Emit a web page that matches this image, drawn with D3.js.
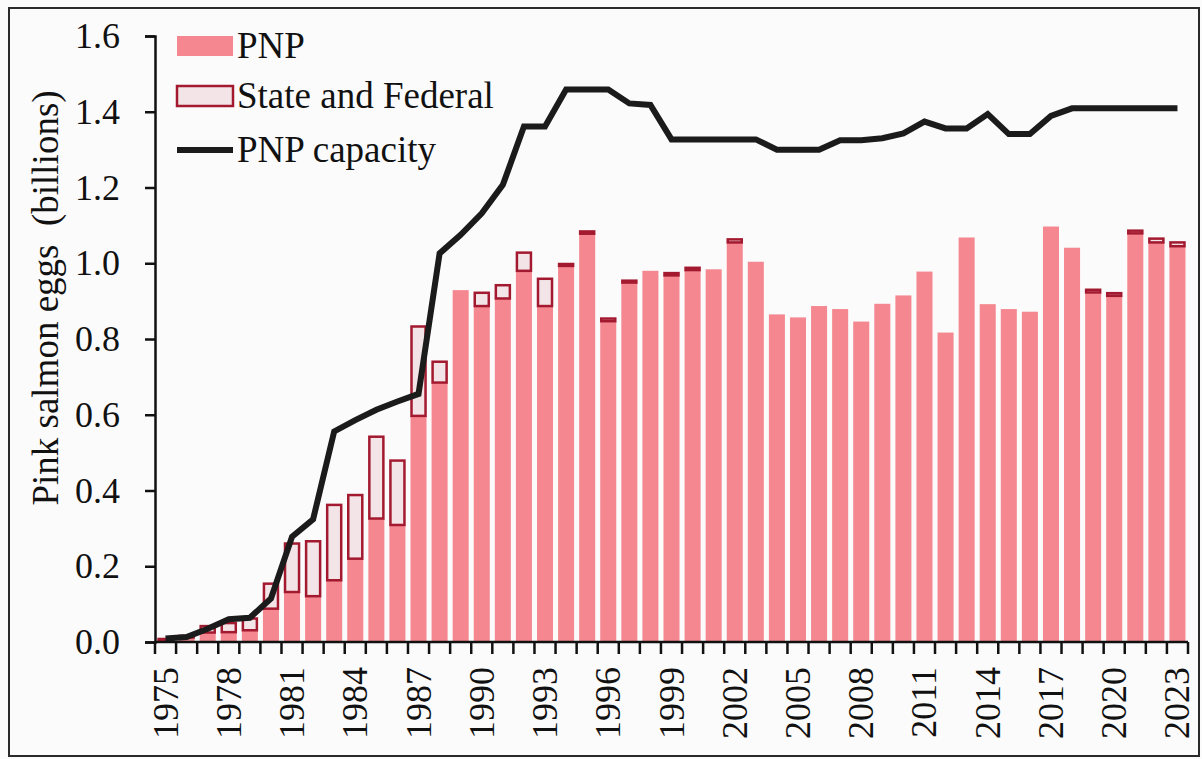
<!DOCTYPE html>
<html>
<head>
<meta charset="utf-8">
<script src="https://cdn.jsdelivr.net/npm/d3@7"></script>
<style>
  body { margin: 0; background: #fbfbfc; }
  svg { display: block; }
  text { font-family: "Liberation Serif", "Times New Roman", serif; fill: #111; }
</style>
</head>
<body>
<svg id="chart" width="1202" height="759"></svg>
<script>
// Jahre 1975 - 2023
const years = d3.range(1975, 2024);

// PNP Eier (Milliarden)
const pnp = [
  0.004, 0.012, 0.025, 0.026, 0.031, 0.088, 0.132, 0.121, 0.163, 0.220,
  0.326, 0.309, 0.597, 0.685, 0.929, 0.887, 0.907, 0.980, 0.887, 0.993,
  1.078, 0.847, 0.949, 0.980, 0.968, 0.982, 0.984, 1.055, 1.004, 0.865,
  0.857, 0.887, 0.879, 0.846, 0.893, 0.915, 0.978, 0.817, 1.068, 0.892,
  0.879, 0.872, 1.097, 1.041, 0.923, 0.914, 1.079, 1.055, 1.045
];

// State and Federal (oben drauf)
const stateFed = [
  0.004, 0.004, 0.017, 0.024, 0.031, 0.066, 0.128, 0.145, 0.199, 0.168,
  0.216, 0.170, 0.236, 0.055, 0.000, 0.035, 0.035, 0.048, 0.072, 0.005,
  0.006, 0.007, 0.005, 0.000, 0.006, 0.006, 0.000, 0.008, 0.000, 0.000,
  0.000, 0.000, 0.000, 0.000, 0.000, 0.000, 0.000, 0.000, 0.000, 0.000,
  0.000, 0.000, 0.000, 0.000, 0.007, 0.007, 0.007, 0.010, 0.010
];

// PNP Kapazität
const capacity = [
  0.009, 0.013, 0.035, 0.060, 0.064, 0.115, 0.278, 0.324, 0.556, 0.586,
  0.613, 0.635, 0.655, 1.026, 1.075, 1.132, 1.207, 1.361, 1.361, 1.459,
  1.459, 1.459, 1.422, 1.418, 1.327, 1.327, 1.327, 1.327, 1.327, 1.300,
  1.300, 1.300, 1.325, 1.325, 1.330, 1.343, 1.374, 1.356, 1.356, 1.394,
  1.341, 1.341, 1.389, 1.409, 1.409, 1.409, 1.409, 1.409, 1.409
];

const yTicks = [0, 0.2, 0.4, 0.6, 0.8, 1.0, 1.2, 1.4, 1.6];
const labelYears = years.filter(y => (y - 1975) % 3 === 0);

const legendItems = ['PNP', 'State and Federal', 'PNP capacity'];

// == Farben ==
const PNP_COLOR = '#f4878f';
const SF_FILL = '#f3e5e7';
const SF_STROKE = '#a3192f';
const LINE_COLOR = '#1b1b1b';

const svg = d3.select('#chart');

// Rahmen um das ganze Bild
svg.append('rect')
  .attr('x', 9).attr('y', 8)
  .attr('width', 1190).attr('height', 748)
  .attr('fill', 'none')
  .attr('stroke', '#2a2a2a')
  .attr('stroke-width', 2);

const plotLeft = 155, plotRight = 1188, plotTop = 36, plotBottom = 642;

const x = d3.scaleBand()
  .domain(years)
  .range([plotLeft, plotRight])
  .paddingInner(0.24)
  .paddingOuter(0.12);

const y = d3.scaleLinear()
  .domain([0, 1.6])
  .range([plotBottom, plotTop]);

// Balken PNP
svg.append('g')
  .selectAll('rect')
  .data(years)
  .enter()
  .append('rect')
  .attr('x', d => x(d))
  .attr('width', x.bandwidth())
  .attr('y', (d, i) => y(pnp[i]))
  .attr('height', (d, i) => y(0) - y(pnp[i]))
  .attr('fill', PNP_COLOR);

// State and Federal Kästchen
svg.append('g')
  .selectAll('rect')
  .data(years.filter((d, i) => stateFed[i] > 0))
  .enter()
  .append('rect')
  .attr('x', d => x(d) + 1)
  .attr('width', x.bandwidth() - 2)
  .attr('y', d => { const i = years.indexOf(d); return y(pnp[i] + stateFed[i]); })
  .attr('height', d => { const i = years.indexOf(d); return y(pnp[i]) - y(pnp[i] + stateFed[i]); })
  .attr('fill', SF_FILL)
  .attr('stroke', SF_STROKE)
  .attr('stroke-width', 2.5);

// Kapazitätslinie
const line = d3.line()
  .x((d, i) => x(years[i]) + x.bandwidth() / 2)
  .y(d => y(d));

svg.append('path')
  .datum(capacity)
  .attr('d', line)
  .attr('fill', 'none')
  .attr('stroke', LINE_COLOR)
  .attr('stroke-width', 6)
  .attr('stroke-linejoin', 'miter');

// Y-Achse
const yAxis = svg.append('g')
  .attr('transform', `translate(${plotLeft},0)`)
  .call(d3.axisLeft(y).tickValues(yTicks).tickFormat(d3.format('.1f')).tickSize(10).tickPadding(25));
yAxis.select('.domain').attr('stroke', '#111').attr('stroke-width', 2.5);
yAxis.selectAll('.tick line').attr('stroke', '#111').attr('stroke-width', 2.5);
yAxis.selectAll('.tick text')
  .style('font-size', '36px')
  .style('font-family', '"Liberation Serif", serif')
  .attr('fill', '#111');

// X-Achse: Linie und Striche an den Kategoriegrenzen
const xAxisG = svg.append('g');
xAxisG.append('line')
  .attr('x1', plotLeft).attr('x2', plotRight)
  .attr('y1', plotBottom).attr('y2', plotBottom)
  .attr('stroke', '#111').attr('stroke-width', 2.5);
xAxisG.selectAll('line.tk')
  .data(d3.range(years.length + 1))
  .enter()
  .append('line')
  .attr('class', 'tk')
  .attr('x1', k => plotLeft + k * (plotRight - plotLeft) / years.length)
  .attr('x2', k => plotLeft + k * (plotRight - plotLeft) / years.length)
  .attr('y1', plotBottom)
  .attr('y2', plotBottom + 12)
  .attr('stroke', '#111')
  .attr('stroke-width', 2.5);

xAxisG.selectAll('text')
  .data(labelYears)
  .enter()
  .append('text')
  .attr('transform', d => `translate(${x(d) + x.bandwidth() / 2 + 12},${plotBottom + 25}) rotate(-90)`)
  .attr('text-anchor', 'end')
  .style('font-size', '36px')
  .text(d => d);

// Achsentitel
svg.append('text')
  .attr('transform', 'translate(58,298) rotate(-90)')
  .attr('text-anchor', 'middle')
  .style('font-size', '37px')
  .style('white-space', 'pre')
  .text('Pink salmon eggs  (billions)');

// == Legende ==
const legend = svg.append('g');
const legX = 177, legW = 56;
const legY = [46, 96, 150];

legend.append('rect')
  .attr('x', legX).attr('y', legY[0] - 10)
  .attr('width', legW).attr('height', 20)
  .attr('fill', PNP_COLOR);
legend.append('rect')
  .attr('x', legX).attr('y', legY[1] - 10)
  .attr('width', legW).attr('height', 20)
  .attr('fill', SF_FILL)
  .attr('stroke', SF_STROKE)
  .attr('stroke-width', 2.5);
legend.append('line')
  .attr('x1', legX).attr('x2', legX + legW)
  .attr('y1', legY[2]).attr('y2', legY[2])
  .attr('stroke', LINE_COLOR)
  .attr('stroke-width', 6);

legend.selectAll('text')
  .data(legendItems)
  .enter()
  .append('text')
  .attr('x', legX + legW + 4)
  .attr('y', (d, i) => legY[i] + 12)
  .style('font-size', '37px')
  .text(d => d);
</script>
</body>
</html>
